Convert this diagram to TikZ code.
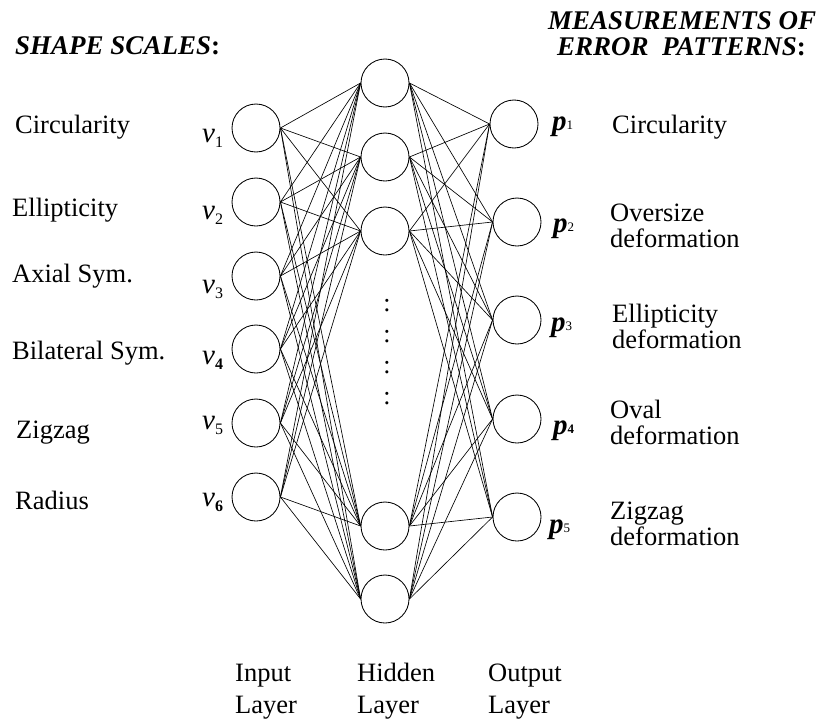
\documentclass[tikz,border=0pt]{standalone}
\usepackage{fontspec}
\setmainfont{Liberation Serif}
\usetikzlibrary{positioning}

\begin{document}
\begin{tikzpicture}[x=1pt,y=-1pt,
 neuron/.style={draw,circle,minimum size=48pt,inner sep=0pt,line width=0.85pt},
 txt/.style={anchor=base west,inner sep=0pt,font=\fontsize{26.5}{26}\selectfont},
 twoline/.style={txt,align=left},
 layer/.style={twoline,font=\fontsize{26.5}{32}\selectfont},
 head/.style={anchor=base west,inner sep=0pt,font=\fontsize{27}{28}\selectfont\bfseries},
 sym/.style={anchor=base west,inner sep=0pt,font=\fontsize{29}{29}\selectfont},
 link/.style={line width=0.65pt}]
\useasboundingbox (0,0) rectangle (816,720);

% input layer
\node[neuron] (in1) at (256,128) {};
\node[neuron] (in2) at (256,202) {};
\node[neuron] (in3) at (256,276) {};
\node[neuron] (in4) at (256,349) {};
\node[neuron] (in5) at (256,423) {};
\node[neuron] (in6) at (256,497) {};
% hidden layer
\node[neuron] (hid1) at (385,83) {};
\node[neuron] (hid2) at (385,157) {};
\node[neuron] (hid3) at (385,231) {};
\node[neuron] (hid4) at (385,526) {};
\node[neuron] (hid5) at (385,599) {};
\node[inner sep=0pt,align=center,font=\fontsize{26}{31}\selectfont] (dots) at (387,352) {:\\:\\:\\:};
% output layer
\node[neuron] (out1) at (514,124) {};
\node[neuron] (out2) at (517,222) {};
\node[neuron] (out3) at (517,320) {};
\node[neuron] (out4) at (517,419) {};
\node[neuron] (out5) at (517,517) {};

\foreach \i in {1,...,6}
  \foreach \j in {1,...,5}
    \draw[link] (in\i.east) -- (hid\j.west);
\foreach \j in {1,...,5}
  \foreach \k in {1,...,5}
    \draw[link] (hid\j.east) -- (out\k.west);

% headings
\node[head] (shape) at (15,54) {\textit{SHAPE SCALES}:};
\node[head] (meas) at (548,29) {\textit{MEASUREMENTS OF}};
\node[head] (err) at (557,55) {\textit{ERROR\ \ PATTERNS}:};

% input names
\node[txt] (nm1) at (15,133) {Circularity};
\node[txt] (nm2) at (12,216) {Ellipticity};
\node[txt] (nm3) at (12,282) {Axial Sym.};
\node[txt] (nm4) at (12,359) {Bilateral Sym.};
\node[txt] (nm5) at (16,438) {Zigzag};
\node[txt] (nm6) at (15,509) {Radius};

% input symbols
\node[sym] (sv1) at (202,142) {\textit{v}\raisebox{-5pt}{\fontsize{16}{16}\selectfont 1}};
\node[sym] (sv2) at (202,219) {\textit{v}\raisebox{-5pt}{\fontsize{16}{16}\selectfont 2}};
\node[sym] (sv3) at (202,293) {\textit{v}\raisebox{-5pt}{\fontsize{16}{16}\selectfont 3}};
\node[sym] (sv4) at (202,364) {\textit{v}\raisebox{-5pt}{\fontsize{16}{16}\selectfont\bfseries 4}};
\node[sym] (sv5) at (202,429) {\textit{v}\raisebox{-5pt}{\fontsize{16}{16}\selectfont 5}};
\node[sym] (sv6) at (202,506) {\textit{v}\raisebox{-5pt}{\fontsize{16}{16}\selectfont\bfseries 6}};

% output symbols
\node[sym] (sp1) at (552,130) {\textbf{\textit{p}}\raisebox{1pt}{\fontsize{13}{13}\selectfont 1}};
\node[sym] (sp2) at (553,232) {\textbf{\textit{p}}\raisebox{1pt}{\fontsize{13}{13}\selectfont 2}};
\node[sym] (sp3) at (551,331) {\textbf{\textit{p}}\raisebox{1pt}{\fontsize{13}{13}\selectfont 3}};
\node[sym] (sp4) at (553,434) {\textbf{\textit{p}}\raisebox{1pt}{\fontsize{13}{13}\selectfont\bfseries 4}};
\node[sym] (sp5) at (549,533) {\textbf{\textit{p}}\raisebox{1pt}{\fontsize{13}{13}\selectfont 5}};

% output names
\node[txt] (pt1) at (612,133) {Circularity};
\node[twoline] (pt2) at (610,247) {Oversize\\deformation};
\node[twoline] (pt3) at (612,348) {Ellipticity\\deformation};
\node[twoline] (pt4) at (610,444) {Oval\\deformation};
\node[twoline] (pt5) at (610,545) {Zigzag\\deformation};

% layer names
\node[layer] (lin) at (235,713) {Input\\Layer};
\node[layer] (lhid) at (357,713) {Hidden\\Layer};
\node[layer] (lout) at (488,713) {Output\\Layer};
\end{tikzpicture}
\end{document}
